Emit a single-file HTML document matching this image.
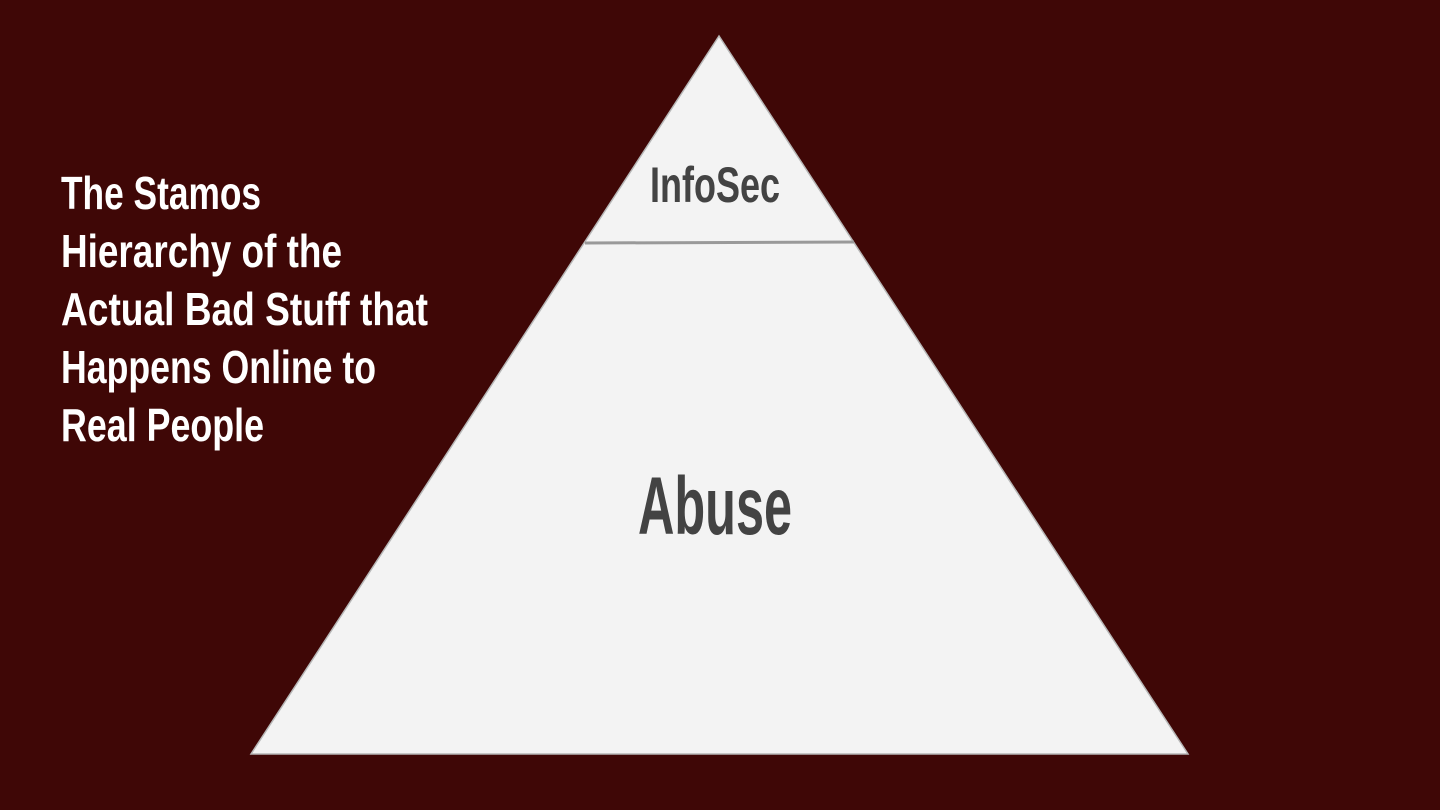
<!DOCTYPE html>
<html><head><meta charset="utf-8"><style>
html,body{margin:0;padding:0;background:#3f0706;}
svg{display:block}
</style></head><body>
<svg width="1440" height="810" viewBox="0 0 1440 810" xmlns="http://www.w3.org/2000/svg">
<rect width="1440" height="810" fill="#3f0706"/>
<polygon points="719,36 251,754 1188,754" fill="#f3f3f3" stroke="#b7b7b7" stroke-width="1.5"/>
<line x1="585" y1="243" x2="854" y2="242" stroke="#999999" stroke-width="3"/>
<g font-family="Liberation Sans, sans-serif" fill="#ffffff" font-size="46" font-weight="bold">
<text x="61" y="209" textLength="200" lengthAdjust="spacingAndGlyphs">The Stamos</text>
<text x="61" y="267" textLength="281" lengthAdjust="spacingAndGlyphs">Hierarchy of the</text>
<text x="61" y="325" textLength="367" lengthAdjust="spacingAndGlyphs">Actual Bad Stuff that</text>
<text x="61" y="383" textLength="315" lengthAdjust="spacingAndGlyphs">Happens Online to</text>
<text x="61" y="441" textLength="203" lengthAdjust="spacingAndGlyphs">Real People</text>
</g>
<text x="650" y="202" font-family="Liberation Sans, sans-serif" font-size="50" font-weight="bold" fill="#434343" textLength="130" lengthAdjust="spacingAndGlyphs">InfoSec</text>
<text x="638" y="534" font-family="Liberation Sans, sans-serif" font-size="82" font-weight="bold" fill="#434343" textLength="154" lengthAdjust="spacingAndGlyphs">Abuse</text>
</svg>
</body></html>
